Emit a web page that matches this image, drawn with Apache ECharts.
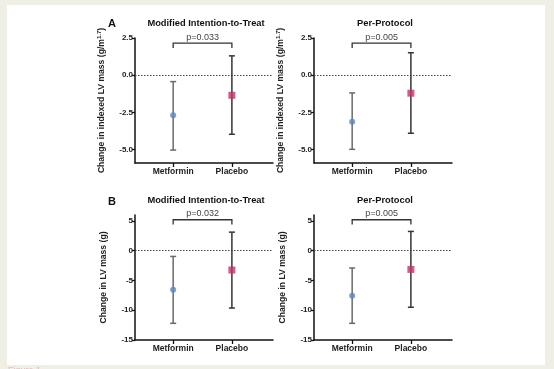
<!DOCTYPE html>
<html>
<head>
<meta charset="utf-8">
<script src="https://cdn.jsdelivr.net/npm/echarts@6/dist/echarts.min.js"></script>
<style>html,body{margin:0;padding:0;background:#efefe6;}#c{width:554px;height:369px;}</style>
</head>
<body>
<div id="c"></div>
<script>
// ---- data ----
const categories = ['Metformin', 'Placebo'];
// Panel A: Change in indexed LV mass (g/m^1.7)
const aMittMean = [-2.69, -1.35];
const aMittLow  = [-5.03, -3.97];
const aMittHigh = [-0.43, 1.30];
const aPpMean   = [-3.12, -1.21];
const aPpLow    = [-4.98, -3.90];
const aPpHigh   = [-1.19, 1.51];
// Panel B: Change in LV mass (g)
const bMittMean = [-6.54, -3.25];
const bMittLow  = [-12.2, -9.63];
const bMittHigh = [-0.96, 3.12];
const bPpMean   = [-7.55, -3.14];
const bPpLow    = [-12.2, -9.5];
const bPpHigh   = [-2.9, 3.24];
const pValues = ['p=0.033', 'p=0.005', 'p=0.032', 'p=0.005'];
const bracketTopA = 2.15, bracketLegA = 1.82;
const bracketTopB = 5.2, bracketLegB = 4.4;
const yTicksA = [-5.0, -2.5, 0.0, 2.5];
const yTicksB = [-15, -10, -5, 0, 5];
const panelTitles = ['Modified Intention-to-Treat', 'Per-Protocol'];

// ---- styles ----
const FONT = 'Liberation Sans, Arial, sans-serif';
const markerColors = ['#5b86c4', '#c8306c'];
const barColors = ['#6a6a6a', '#353535'];
const markerShapes = ['circle', 'rect'];
const markerSizes = [6, 7];

const panels = [
  {mean: aMittMean, low: aMittLow, high: aMittHigh, p: pValues[0], top: bracketTopA, leg: bracketLegA, ticks: yTicksA, row: 0, col: 0},
  {mean: aPpMean,   low: aPpLow,   high: aPpHigh,   p: pValues[1], top: bracketTopA, leg: bracketLegA, ticks: yTicksA, row: 0, col: 1},
  {mean: bMittMean, low: bMittLow, high: bMittHigh, p: pValues[2], top: bracketTopB, leg: bracketLegB, ticks: yTicksB, row: 1, col: 0},
  {mean: bPpMean,   low: bPpLow,   high: bPpHigh,   p: pValues[3], top: bracketTopB, leg: bracketLegB, ticks: yTicksB, row: 1, col: 1}
];

const gridLefts = [135, 314];
const gridTops = [38, 215];
const grids = [], xAxes = [], yAxes = [], series = [];

panels.forEach((pn, i) => {
  grids.push({left: gridLefts[pn.col], top: gridTops[pn.row], width: 138, height: 125});
  const catPos = categories.map((c, k) => k + 1);
  xAxes.push({
    type: 'value', gridIndex: i, min: 0.35, max: 2.7,
    axisLine: {show: true, onZero: false, lineStyle: {color: '#111', width: 1.5}},
    axisTick: {show: true, customValues: catPos, length: 4, lineStyle: {color: '#111', width: 1.3}},
    axisLabel: {customValues: catPos, formatter: v => categories[Math.round(v) - 1] || '',
      fontSize: 8.5, fontWeight: 'bold', color: '#222', fontFamily: FONT, margin: 4},
    splitLine: {show: false}
  });
  const isA = pn.row === 0;
  yAxes.push({
    type: 'value', gridIndex: i,
    min: isA ? -5.9 : -15, max: isA ? 2.5 : 6,
    axisLine: {show: true, onZero: false, lineStyle: {color: '#111', width: 1.5}},
    axisTick: {show: true, customValues: pn.ticks, length: 3, lineStyle: {color: '#111', width: 1.3}},
    axisLabel: {customValues: pn.ticks, formatter: v => isA ? v.toFixed(1) : String(v),
      fontSize: 8, fontWeight: 'bold', color: '#222', fontFamily: FONT, margin: 2},
    splitLine: {show: false},
    name: isA ? '{t|Change in indexed LV mass (g/m}{s|1.7}{t|)}' : 'Change in LV mass (g)',
    nameLocation: 'middle', nameGap: 27, nameRotate: 90,
    nameTextStyle: {fontSize: 8.6, fontWeight: 'bold', color: '#222', fontFamily: FONT,
      rich: {
        t: {fontSize: 8.6, fontWeight: 'bold', color: '#222', fontFamily: FONT, lineHeight: 12},
        s: {fontSize: 6, fontWeight: 'bold', color: '#222', fontFamily: FONT, verticalAlign: 'top', lineHeight: 12}
      }}
  });
  // error bars
  series.push({
    type: 'custom', xAxisIndex: i, yAxisIndex: i, z: 3,
    data: categories.map((c, k) => [k + 1, pn.low[k], pn.high[k], k]),
    renderItem: (params, api) => {
      const x = api.value(0);
      const lo = api.coord([x, api.value(1)]);
      const hi = api.coord([x, api.value(2)]);
      const col = barColors[api.value(3)];
      const st = {stroke: col, lineWidth: 1.5};
      const cw = 3;
      return {type: 'group', children: [
        {type: 'line', shape: {x1: lo[0], y1: lo[1], x2: hi[0], y2: hi[1]}, style: st},
        {type: 'line', shape: {x1: lo[0] - cw, y1: lo[1], x2: lo[0] + cw, y2: lo[1]}, style: st},
        {type: 'line', shape: {x1: hi[0] - cw, y1: hi[1], x2: hi[0] + cw, y2: hi[1]}, style: st}
      ]};
    },
    markLine: {silent: true, symbol: 'none', label: {show: false}, z: 1,
      lineStyle: {type: [1.5, 1.5], color: '#444', width: 1},
      data: [{yAxis: 0}]}
  });
  // means
  categories.forEach((c, k) => {
    series.push({
      type: 'scatter', xAxisIndex: i, yAxisIndex: i, z: 5,
      symbol: markerShapes[k], symbolSize: markerSizes[k],
      itemStyle: {color: markerColors[k]},
      data: [[k + 1, pn.mean[k]]]
    });
  });
  // bracket with p value
  series.push({
    type: 'custom', xAxisIndex: i, yAxisIndex: i, z: 4,
    data: [[1, 2, pn.leg, pn.top]],
    renderItem: (params, api) => {
      const a = api.coord([api.value(0), api.value(2)]);
      const b = api.coord([api.value(0), api.value(3)]);
      const c = api.coord([api.value(1), api.value(3)]);
      const d = api.coord([api.value(1), api.value(2)]);
      return {type: 'group', children: [
        {type: 'polyline', shape: {points: [a, b, c, d]}, style: {stroke: '#333', lineWidth: 1.3, fill: null}},
        {type: 'text', style: {text: pn.p, x: (b[0] + c[0]) / 2, y: b[1] - 1.5, textAlign: 'center', textVerticalAlign: 'bottom',
          fontSize: 9, fill: '#444', fontFamily: FONT}}
      ]};
    }
  });
});

const titles = [
  {text: 'A', left: 103, top: 13, textStyle: {fontSize: 11, fontWeight: 'bold', color: '#111', fontFamily: FONT}},
  {text: 'B', left: 103, top: 191, textStyle: {fontSize: 11, fontWeight: 'bold', color: '#111', fontFamily: FONT}}
];
[0, 1].forEach(row => {
  [0, 1].forEach(col => {
    titles.push({text: panelTitles[col], left: col === 0 ? 201 : 380, top: row === 0 ? 14 : 191, textAlign: 'center',
      textStyle: {fontSize: 9.3, fontWeight: 'bold', color: '#111', fontFamily: FONT}});
  });
});

const chart = echarts.init(document.getElementById('c'), null, {renderer: 'canvas'});
chart.setOption({
  backgroundColor: '#efefe6',
  animation: false,
  graphic: [
    {type: 'rect', z: -100, silent: true, shape: {x: 7, y: 5, width: 538, height: 360}, style: {fill: '#ffffff'}},
    {type: 'text', z: -50, silent: true, style: {text: 'Figure 1', x: 8, y: 366, fontSize: 9, fill: '#ebb7be', fontFamily: FONT}}
  ],
  title: titles,
  grid: grids,
  xAxis: xAxes,
  yAxis: yAxes,
  series: series
});
</script>
</body>
</html>
